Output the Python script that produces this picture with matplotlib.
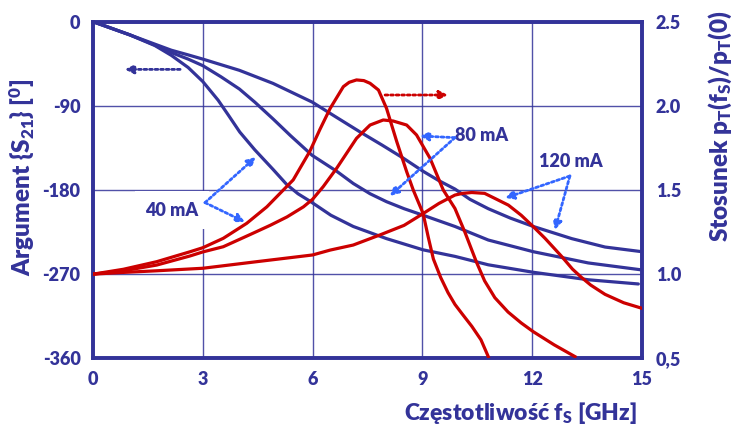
import matplotlib
matplotlib.use("Agg")
import matplotlib.pyplot as plt

plt.rcParams['font.family'] = ['Lato', 'DejaVu Sans']
plt.rcParams['mathtext.default'] = 'regular'

NAVY = '#333399'
RED = '#cc0000'
LIGHT = '#3366ff'
WEIGHT = 'heavy'

# Phase of S21 [deg] versus frequency [GHz] for three bias currents
f_40 = [0, 0.5, 1.0, 1.69, 2.14, 2.6, 3.0, 3.42, 3.7, 4.01, 4.42, 4.92, 5.29, 5.6, 5.93,
        6.5, 7.11, 8.02, 9.02, 9.89, 10.8, 12.03, 13.53, 14.9]
phase_40 = [0, -7, -14, -25.5, -36, -49, -64, -84, -100, -118, -137, -158, -174, -184, -192,
            -207, -219, -232, -244, -251, -260, -268, -276, -280.5]

f_80 = [0, 0.5, 1.0, 1.69, 2.14, 2.6, 3.0, 3.5, 4.0, 4.42, 4.92, 5.4, 5.99, 6.66, 7.11,
        7.57, 8.02, 8.5, 9.02, 9.89, 10.8, 12.03, 13.53, 15.0]
phase_80 = [0, -7, -14, -25, -33, -40, -47, -59, -72, -86, -104, -122, -143, -160, -173,
            -184, -192.5, -200, -207, -219, -233.5, -246, -258, -265.5]

f_120 = [0, 0.5, 1.0, 1.69, 2.14, 2.6, 3.0, 4.0, 4.92, 5.99, 6.6, 7.30, 7.9, 8.48, 9.02,
         9.45, 9.89, 10.3, 10.8, 11.4, 12.03, 13.08, 13.99, 15.0]
phase_120 = [0, -7, -14, -24, -30.5, -35.5, -40, -52, -66, -86, -101, -118, -132, -146, -160,
             -170, -179, -190, -200, -210, -219, -232, -241, -246]

# Ratio p_T(f_S)/p_T(0)
g_40 = [0, 0.83, 1.74, 2.65, 3.0, 3.56, 4.2, 4.75, 5.2, 5.47, 5.92, 6.2, 6.48, 6.84, 7.0,
        7.2, 7.4, 7.57, 7.8, 8.02, 8.3, 8.57, 8.75, 9.02, 9.16, 9.3, 9.5, 9.7, 9.89,
        10.1, 10.35, 10.6, 10.8]
ratio_40 = [1.0, 1.029, 1.074, 1.133, 1.157, 1.213, 1.302, 1.40, 1.50, 1.56, 1.728, 1.86,
            1.985, 2.114, 2.14, 2.154, 2.15, 2.134, 2.094, 1.985, 1.787, 1.609, 1.5, 1.36,
            1.22, 1.09, 0.98, 0.89, 0.82, 0.76, 0.69, 0.61, 0.51]

g_80 = [0, 0.83, 1.74, 2.65, 3.0, 3.56, 4.29, 4.84, 5.3, 5.75, 6.0, 6.29, 6.66, 7.2, 7.57,
        7.93, 8.2, 8.57, 8.84, 9.21, 9.57, 9.89, 10.16, 10.48, 10.7, 10.98, 11.34, 11.7,
        12.03, 12.6, 13.17]
ratio_80 = [1.0, 1.02, 1.054, 1.108, 1.132, 1.163, 1.235, 1.29, 1.34, 1.40, 1.445, 1.52,
            1.63, 1.807, 1.886, 1.916, 1.91, 1.886, 1.827, 1.688, 1.5, 1.39, 1.25, 1.07,
            0.96, 0.86, 0.775, 0.71, 0.658, 0.58, 0.51]

g_120 = [0, 0.8, 1.74, 3.0, 4.47, 6.0, 6.48, 7.11, 7.84, 8.5, 9.02, 9.45, 9.89, 10.1,
         10.35, 10.7, 10.98, 11.35, 11.7, 12.03, 12.35, 12.81, 13.1, 13.35, 13.6, 13.99,
         14.5, 15.0]
ratio_120 = [1.0, 1.01, 1.02, 1.035, 1.074, 1.114, 1.143, 1.173, 1.233, 1.29, 1.36, 1.42,
             1.47, 1.48, 1.485, 1.48, 1.45, 1.41, 1.35, 1.282, 1.213, 1.104, 1.03, 0.98,
             0.935, 0.88, 0.83, 0.797]

x_ticks = [0, 3, 6, 9, 12, 15]
x_labels = ['0', '3', '6', '9', '12', '15']
phase_ticks = [-360, -270, -180, -90, 0]
phase_labels = ['-360', '-270', '-180', '-90', '0']
ratio_ticks = [0.5, 1.0, 1.5, 2.0, 2.5]
ratio_labels = ['0,5', '1.0', '1.5', '2.0', '2.5']

fig = plt.figure(figsize=(7.33, 4.29), dpi=100)
ax = fig.add_axes([93 / 733, 1 - 358.3 / 429, 549 / 733, 336.6 / 429])
ax.set_xlim(0, 15)
ax.set_ylim(-360, 0)
ax.set_xticks(x_ticks, x_labels)
ax.set_yticks(phase_ticks, phase_labels)
ax.grid(True, color=NAVY, lw=1.0, alpha=0.85)
ax.set_axisbelow(True)
ax.tick_params(length=0, labelsize=13, labelcolor=NAVY, pad=9)

for f, p in [(f_40, phase_40), (f_80, phase_80), (f_120, phase_120)]:
    ax.plot(f, p, color=NAVY, lw=2.3, solid_joinstyle='round', solid_capstyle='round', zorder=3)

ax2 = ax.twinx()
ax2.set_ylim(0.5, 2.5)
ax2.set_yticks(ratio_ticks, ratio_labels)
ax2.tick_params(length=0, labelsize=13, labelcolor=NAVY, pad=10)
for g, r in [(g_40, ratio_40), (g_80, ratio_80), (g_120, ratio_120)]:
    ax2.plot(g, r, color=RED, lw=2.3, solid_joinstyle='round', zorder=3)

for a in (ax, ax2):
    for s in a.spines.values():
        s.set_color(NAVY)
        s.set_linewidth(2.6)

for lbl in ax.get_xticklabels() + ax.get_yticklabels() + ax2.get_yticklabels():
    lbl.set_fontweight(WEIGHT)

# Axis titles
fig.text(22 / 733, 1 - 177 / 429, 'Argument {S$_{21}$} [$^{0}$]', rotation=90,
         ha='center', va='center', fontsize=17.5, fontweight=WEIGHT, color=NAVY)
fig.text(720 / 733, 1 - 126 / 429, 'Stosunek p$_{T}$(f$_{S}$)/p$_{T}$(0)', rotation=90,
         ha='center', va='center', fontsize=17.5, fontweight=WEIGHT, color=NAVY)
fig.text(520 / 733, 1 - 413 / 429, 'Częstotliwość f$_{S}$ [GHz]',
         ha='center', va='center', fontsize=16.5, fontweight=WEIGHT, color=NAVY)

# Which axis each family of curves belongs to
ax.annotate('', xy=(0.87, -51), xytext=(2.38, -51),
            arrowprops=dict(arrowstyle='-|>,head_length=0.5,head_width=0.25', color=NAVY,
                            lw=2, linestyle=(0, (1, 1)), shrinkA=0, shrinkB=0))
ax.annotate('', xy=(9.70, -78.4), xytext=(7.98, -78.4),
            arrowprops=dict(arrowstyle='-|>,head_length=0.5,head_width=0.25', color=RED,
                            lw=2, linestyle=(0, (1, 1)), shrinkA=0, shrinkB=0))

# Bias-current labels with pointers to their curves
labels = [
    ('40 mA', (2.16, -201.4), 0.6, (3.06, -193.5), [(4.45, -144.7), (4.15, -214.2)]),
    ('80 mA', (10.63, -122.2), 0.15, (9.89, -124.0), [(8.93, -122.2), (8.11, -186.4)]),
    ('120 mA', (13.05, -149.0), 0.15, (13.03, -165.0), [(11.26, -188.6), (12.62, -222.8)]),
]
for text, pos, pad, start, tips in labels:
    ax2.text(pos[0], pos[1], text, transform=ax.transData, ha='center', va='center',
             fontsize=13, fontweight=WEIGHT, color=NAVY, zorder=5,
             bbox=dict(boxstyle=f'square,pad={pad}', fc='white', ec='none'))
    for tip in tips:
        ax2.annotate('', xy=tip, xycoords=ax.transData, xytext=start, textcoords=ax.transData,
                     arrowprops=dict(arrowstyle='-|>,head_length=0.5,head_width=0.25', color=LIGHT,
                                     lw=2, linestyle=(0, (1, 1)), shrinkA=0, shrinkB=0),
                     zorder=6)

fig.savefig('out.png', dpi=100)
